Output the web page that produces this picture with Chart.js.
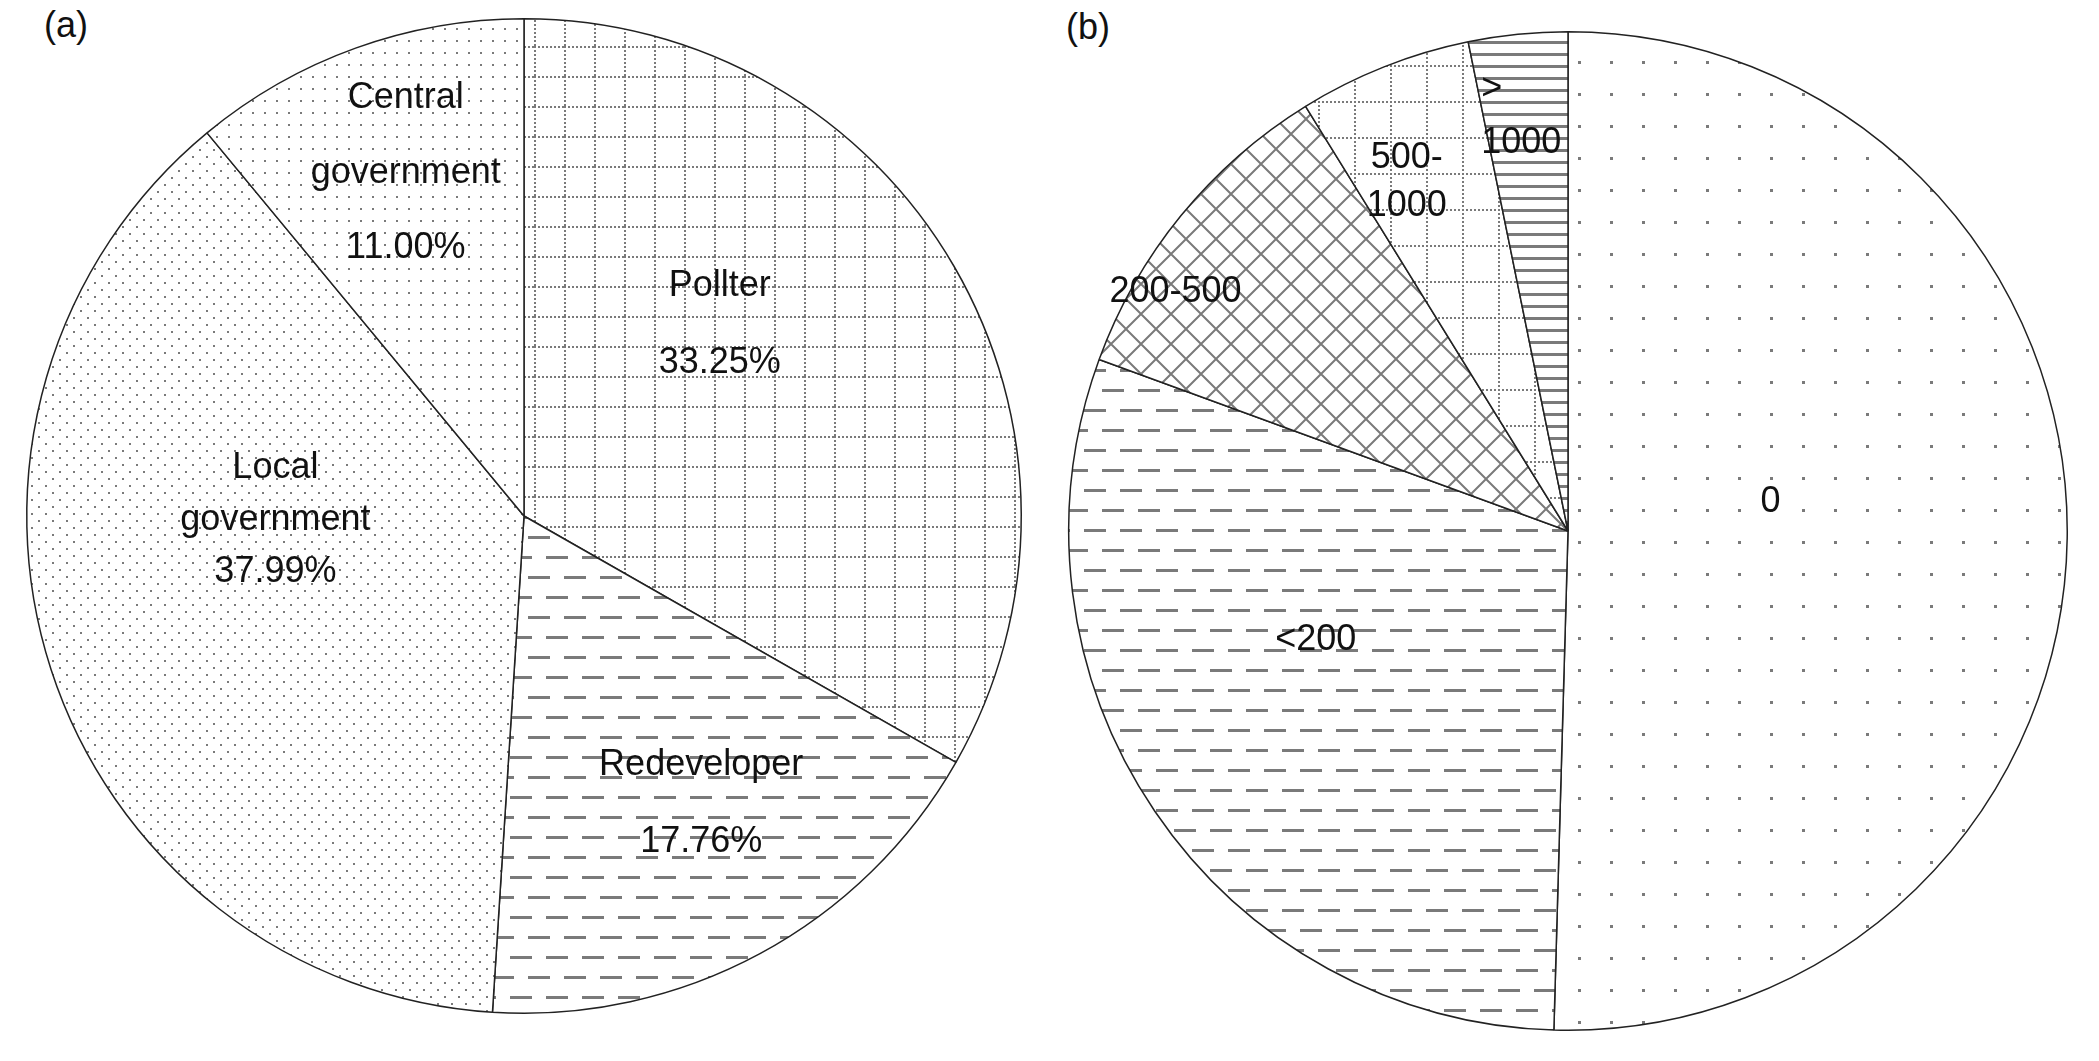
<!DOCTYPE html>
<html>
<head>
<meta charset="utf-8">
<script src="https://cdn.jsdelivr.net/npm/chart.js@4.4.1/dist/chart.umd.min.js"></script>
<style>
  body { margin: 0; background: #fff; width: 2099px; height: 1061px; overflow: hidden; position: relative; font-family: 'Liberation Sans', Arial, sans-serif; }
  .panel { position: absolute; }
  .tag { position: absolute; font-size: 36px; color: #111; }
</style>
</head>
<body>
<div class="tag" style="left:44px; top:4px;">(a)</div>
<div class="tag" style="left:1066px; top:6px;">(b)</div>
<div class="panel" style="left:24px; top:16px;"><canvas id="pieA" width="1000" height="1000"></canvas></div>
<div class="panel" style="left:1066px; top:29px;"><canvas id="pieB" width="1004" height="1004"></canvas></div>
<script>
// (a) share of cost by party, clockwise from 12 o'clock
var partyLabels = [['Pollter', '33.25%'], ['Redeveloper', '17.76%'], ['Local', 'government', '37.99%'], ['Central', 'government', '11.00%']];
var partyShares = [33.25, 17.76, 37.99, 11.00];

// (b) share by class, clockwise from 12 o'clock
var classLabels = [['0'], ['<200'], ['200-500'], ['500-', '1000'], ['>', '1000']];
var classShares = [50.4, 30.1, 10.6, 5.6, 3.2];

// label placement per slice: angle (deg from top, clockwise), radius fraction, line height, align
var partyLabelPos = [[45.7, 0.55, 77, 'center'], [148.4, 0.68, 77, 'center'], [269.1, 0.5, 52, 'center'], [341, 0.73, 75, 'center']];
var classLabelPos = [[81.8, 0.41, 48, 'center'], [246.7, 0.55, 48, 'center'], [301.3, 0.92, 48, 'center'], [335.2, 0.77, 48, 'center'], [348.2, 0.85, 54, 'left']];

var GREY = '#7a7a7a';

function makePattern(size, draw) {
  var c = document.createElement('canvas');
  c.width = size[0]; c.height = size[1];
  var g = c.getContext('2d');
  g.fillStyle = '#fff';
  g.fillRect(0, 0, c.width, c.height);
  draw(g, c.width, c.height);
  return c.getContext('2d').createPattern(c, 'repeat');
}

function dots(step, r) {
  return makePattern([step, step], function (g) {
    g.fillStyle = GREY;
    g.fillRect(0, 0, r, r);
  });
}

function staggeredDots(step, r) {
  return makePattern([step * 2, step * 2], function (g) {
    g.fillStyle = GREY;
    g.fillRect(0, 0, r, r);
    g.fillRect(step, step, r, r);
  });
}

function dottedGrid(step) {
  return makePattern([step, step], function (g) {
    g.fillStyle = GREY;
    for (var i = 0; i < step; i += 4) {
      g.fillRect(i, 0, 2, 2);
      g.fillRect(0, i, 2, 2);
    }
  });
}

function dashes() {
  return makePattern([36, 40], function (g) {
    g.fillStyle = GREY;
    g.fillRect(0, 0, 22, 3);
    g.fillRect(18, 20, 22, 3);
    g.fillRect(-18, 20, 22, 3);
  });
}

function hLines(step) {
  return makePattern([8, step], function (g) {
    g.fillStyle = GREY;
    g.fillRect(0, 0, 8, 3);
  });
}

function lattice(step) {
  return makePattern([step, step], function (g, w, h) {
    g.strokeStyle = GREY;
    g.lineWidth = 2;
    g.beginPath();
    g.moveTo(0, h); g.lineTo(w, 0);
    g.moveTo(0, 0); g.lineTo(w, h);
    g.stroke();
  });
}

var sliceLabels = {
  id: 'sliceLabels',
  afterDatasetsDraw: function (chart, args, opts) {
    var ctx = chart.ctx;
    var meta = chart.getDatasetMeta(0);
    ctx.save();
    ctx.font = '36px "Liberation Sans", Arial, sans-serif';
    ctx.fillStyle = '#111';
    ctx.textBaseline = 'middle';
    meta.data.forEach(function (arc, i) {
      var p = opts.pos[i];
      var lines = opts.labels[i];
      var a = (p[0] - 90) * Math.PI / 180;
      var x = arc.x + Math.cos(a) * arc.outerRadius * p[1];
      var y = arc.y + Math.sin(a) * arc.outerRadius * p[1];
      ctx.textAlign = p[3];
      var y0 = y - (lines.length - 1) * p[2] / 2;
      lines.forEach(function (t, k) { ctx.fillText(t, x, y0 + k * p[2]); });
    });
    ctx.restore();
  }
};

function pieChart(id, labels, values, fills, pos) {
  return new Chart(document.getElementById(id), {
    type: 'pie',
    data: {
      labels: labels.map(function (l) { return l.join(' '); }),
      datasets: [{ data: values, backgroundColor: fills, borderColor: '#222', borderWidth: 1.5 }]
    },
    options: {
      responsive: false,
      devicePixelRatio: 1,
      animation: false,
      layout: { padding: 2 },
      plugins: {
        legend: { display: false },
        tooltip: { enabled: false },
        sliceLabels: { labels: labels, pos: pos }
      }
    },
    plugins: [sliceLabels]
  });
}

pieChart('pieA', partyLabels, partyShares,
  [dottedGrid(30), dashes(), staggeredDots(7, 2), dots(12, 2)], partyLabelPos);
pieChart('pieB', classLabels, classShares,
  [dots(32, 3), dashes(), lattice(30), dottedGrid(36), hLines(12)], classLabelPos);
</script>
</body>
</html>
